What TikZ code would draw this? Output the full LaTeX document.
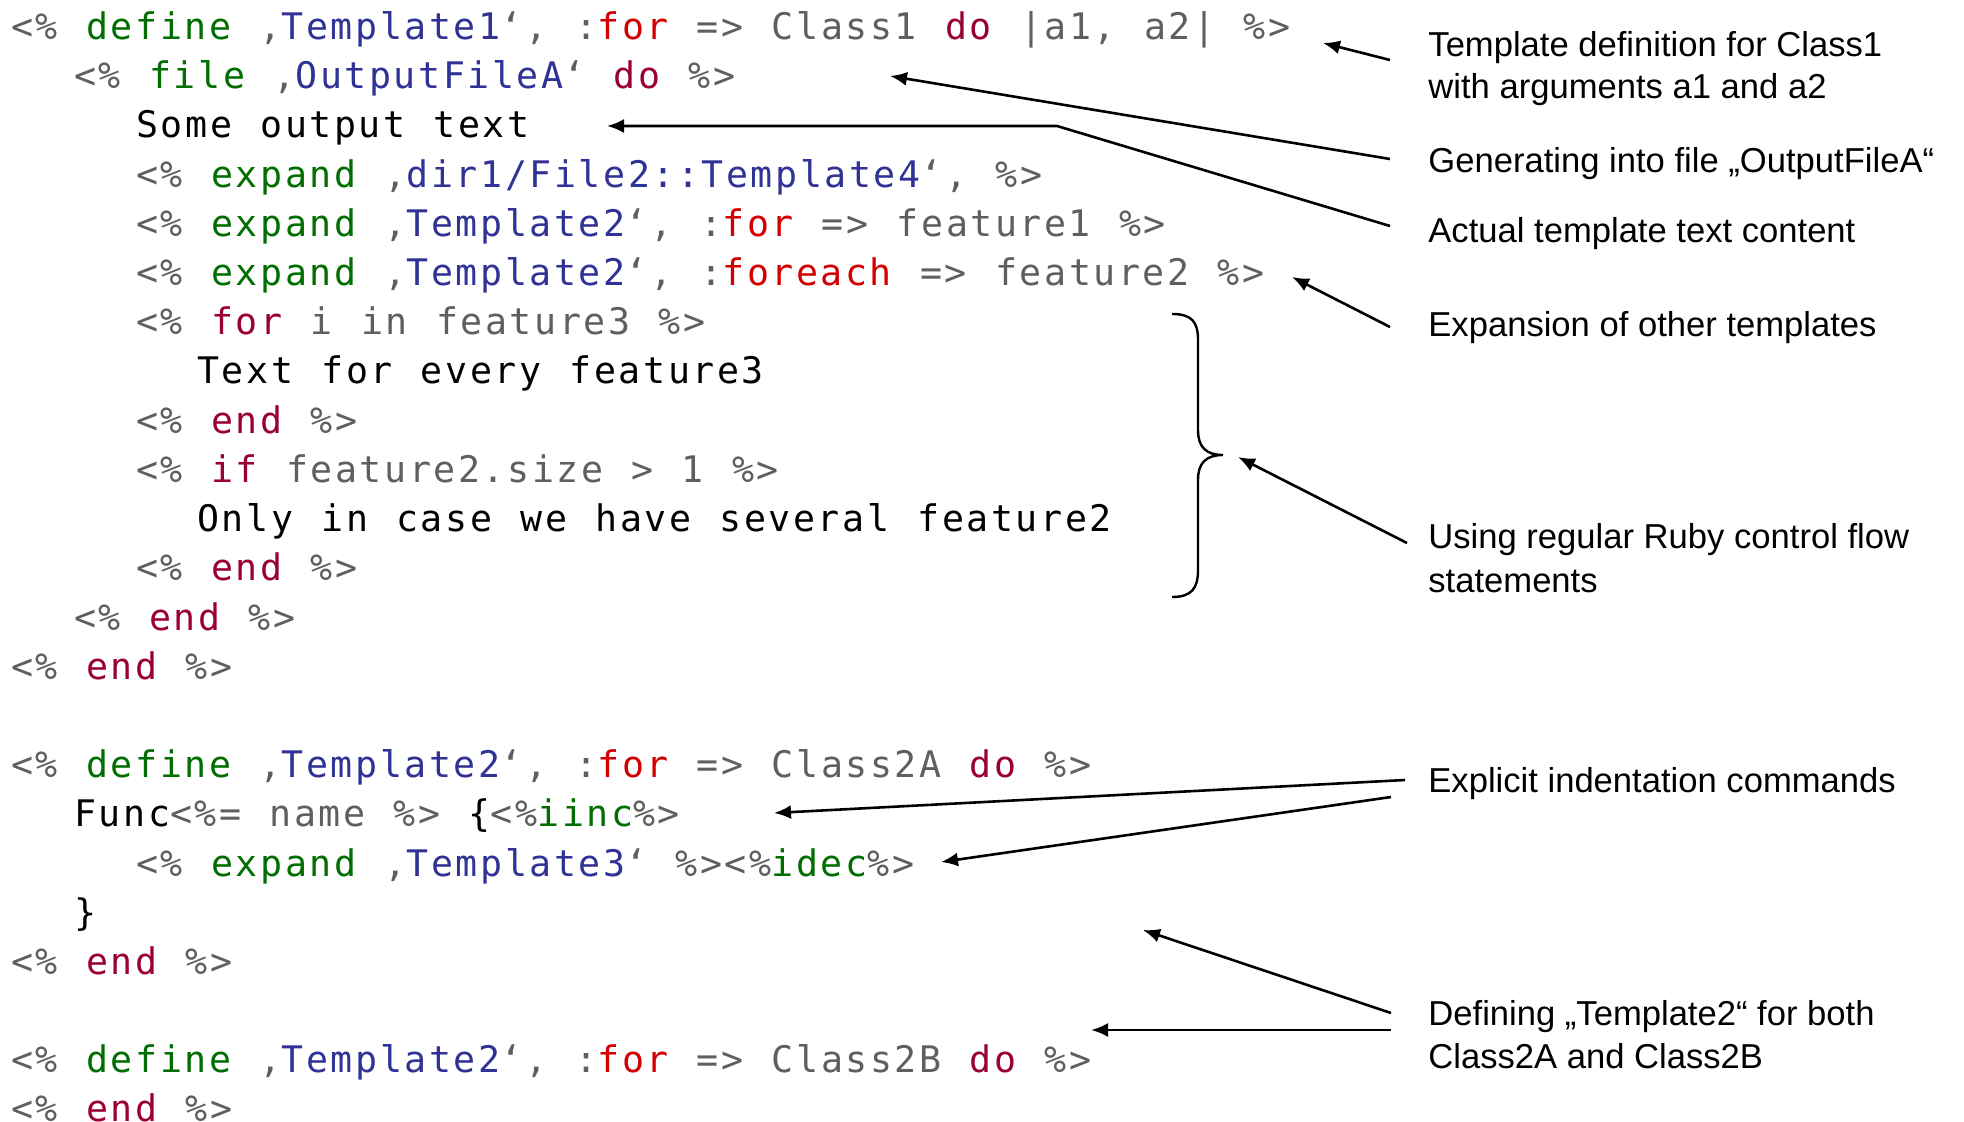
\documentclass[tikz,border=0pt]{standalone}
\usepackage{fontspec}
\usepackage{xcolor}
\usetikzlibrary{arrows.meta}
\setmainfont{Liberation Sans}
\newfontfamily\codefont[LetterSpace=7,WordSpace=1.15]{DejaVu Sans Mono}

\definecolor{cgray}{RGB}{95,95,95}
\definecolor{cgreen}{RGB}{0,110,0}
\definecolor{cblue}{RGB}{48,50,150}
\definecolor{cred}{RGB}{210,0,0}
\definecolor{cmaroon}{RGB}{155,0,50}

% syntax colouring helpers for the template code
% (\relax keeps a leading space of the argument from being swallowed)
\newcommand\kgray[1]{\textcolor{cgray}{\relax#1}}
\newcommand\kgreen[1]{\textcolor{cgreen}{\relax#1}}
\newcommand\kblue[1]{\textcolor{cblue}{\relax#1}}
\newcommand\kred[1]{\textcolor{cred}{\relax#1}}
\newcommand\kmar[1]{\textcolor{cmaroon}{\relax#1}}

\begin{document}
\begin{tikzpicture}[x=0.5pt,y=-0.5pt,
  code/.style={anchor=base west,inner sep=0pt,
    font=\codefont\fontsize{18.3pt}{20pt}\selectfont},
  note/.style={anchor=base west,inner sep=0pt,
    font=\fontsize{17.3pt}{21pt}\selectfont},
  pointer/.style={-{Latex[length=8.5pt,width=7pt]},line width=1.3pt},
  bracestroke/.style={line width=1.2pt},
]
\useasboundingbox[fill=white] (0,0) rectangle (1964,1122);

% ---------------- template code ----------------
\node[code] (c1)  at (11,39.6)   {\kgray{<\% }\kgreen{define}\kgray{ ‚}\kblue{Template1}\kgray{‘, :}\kred{for}\kgray{ => Class1 }\kmar{do}\kgray{ |a1, a2| \%>}};
\node[code] (c2)  at (74,88.8)   {\kgray{<\% }\kgreen{file}\kgray{ ‚}\kblue{OutputFileA}\kgray{‘ }\kmar{do}\kgray{ \%>}};
\node[code] (c3)  at (136,138)   {Some output text};
\node[code] (c4)  at (136,187.2) {\kgray{<\% }\kgreen{expand}\kgray{ ‚}\kblue{dir1/File2::Template4}\kgray{‘, \%>}};
\node[code] (c5)  at (136,236.4) {\kgray{<\% }\kgreen{expand}\kgray{ ‚}\kblue{Template2}\kgray{‘, :}\kred{for}\kgray{ => feature1 \%>}};
\node[code] (c6)  at (136,285.6) {\kgray{<\% }\kgreen{expand}\kgray{ ‚}\kblue{Template2}\kgray{‘, :}\kred{foreach}\kgray{ => feature2 \%>}};
\node[code] (c7)  at (136,334.8) {\kgray{<\% }\kmar{for}\kgray{ i in feature3 \%>}};
\node[code] (c8)  at (197,384)   {Text for every feature3};
\node[code] (c9)  at (136,433.2) {\kgray{<\% }\kmar{end}\kgray{ \%>}};
\node[code] (c10) at (136,482.4) {\kgray{<\% }\kmar{if}\kgray{ feature2.size > 1 \%>}};
\node[code] (c11) at (197,531.6) {Only in case we have several feature2};
\node[code] (c12) at (136,580.8) {\kgray{<\% }\kmar{end}\kgray{ \%>}};
\node[code] (c13) at (74,630)    {\kgray{<\% }\kmar{end}\kgray{ \%>}};
\node[code] (c14) at (11,679.2)  {\kgray{<\% }\kmar{end}\kgray{ \%>}};

\node[code] (c16) at (11,777.6)  {\kgray{<\% }\kgreen{define}\kgray{ ‚}\kblue{Template2}\kgray{‘, :}\kred{for}\kgray{ => Class2A }\kmar{do}\kgray{ \%>}};
\node[code] (c17) at (74,826.8)  {Func\kgray{<\%= name \%>} \{\kgray{<\%}\kgreen{iinc}\kgray{\%>}};
\node[code] (c18) at (136,876)   {\kgray{<\% }\kgreen{expand}\kgray{ ‚}\kblue{Template3}\kgray{‘ \%><\%}\kgreen{idec}\kgray{\%>}};
\node[code] (c19) at (74,925.2)  {\}};
\node[code] (c20) at (11,974.4)  {\kgray{<\% }\kmar{end}\kgray{ \%>}};

\node[code] (c22) at (11,1072.8) {\kgray{<\% }\kgreen{define}\kgray{ ‚}\kblue{Template2}\kgray{‘, :}\kred{for}\kgray{ => Class2B }\kmar{do}\kgray{ \%>}};
\node[code] (c23) at (11,1121)   {\kgray{<\% }\kmar{end}\kgray{ \%>}};

% ---------------- explanations ----------------
\node[note] (n1) at (1428,57)  {\begin{tabular}[t]{@{}l@{}}Template definition for Class1\\with arguments a1 and a2\end{tabular}};
\node[note] (n2) at (1428,173) {Generating into file „OutputFileA“};
\node[note] (n3) at (1428,243) {Actual template text content};
\node[note] (n4) at (1428,337) {Expansion of other templates};
\node[note,font=\fontsize{17.3pt}{21.6pt}\selectfont] (n5) at (1428,549) {\begin{tabular}[t]{@{}l@{}}Using regular Ruby control flow\\statements\end{tabular}};
\node[note] (n6) at (1428,792) {Explicit indentation commands};
\node[note,font=\fontsize{17.3pt}{21.6pt}\selectfont] (n7) at (1428,1025){\begin{tabular}[t]{@{}l@{}}Defining „Template2“ for both\\Class2A and Class2B\end{tabular}};

% ---------------- brace round the control flow block ----------------
\coordinate (bt) at (1172,314);
\coordinate (bm) at (1223,455);
\coordinate (bb) at (1172,597);
\draw[bracestroke] (bt) .. controls (1192,314) and (1198,322) .. (1198,340)
  -- (1198,430) .. controls (1198,447) and (1206,455) .. (bm)
  .. controls (1206,455) and (1198,463) .. (1198,480)
  -- (1198,570) .. controls (1198,588) and (1192,597) .. (bb);

% ---------------- pointer ends ----------------
\coordinate (t1) at (1390,60);    \coordinate (h1) at (1323,43);
\coordinate (t2) at (1390,159);   \coordinate (h2) at (890,76);
\coordinate (t3) at (1390,226);   \coordinate (k3) at (1057,126);  \coordinate (h3) at (607,126);
\coordinate (t4) at (1390,327);   \coordinate (h4) at (1292,277);
\coordinate (t5) at (1407,543);   \coordinate (h5) at (1238,457);
\coordinate (t6a) at (1405,780);  \coordinate (h6a) at (774,813);
\coordinate (t6b) at (1391,797);  \coordinate (h6b) at (941,862);
\coordinate (t7a) at (1391,1013); \coordinate (h7a) at (1143,930);
\coordinate (t7b) at (1391,1030); \coordinate (h7b) at (1091,1030);

\draw[pointer] (t1) -- (h1);
\draw[pointer] (t2) -- (h2);
\draw[pointer] (t3) -- (k3) -- (h3);
\draw[pointer] (t4) -- (h4);
\draw[pointer] (t5) -- (h5);
\draw[pointer] (t6a) -- (h6a);
\draw[pointer] (t6b) -- (h6b);
\draw[pointer] (t7a) -- (h7a);
\draw[pointer] (t7b) -- (h7b);
\end{tikzpicture}
\end{document}
